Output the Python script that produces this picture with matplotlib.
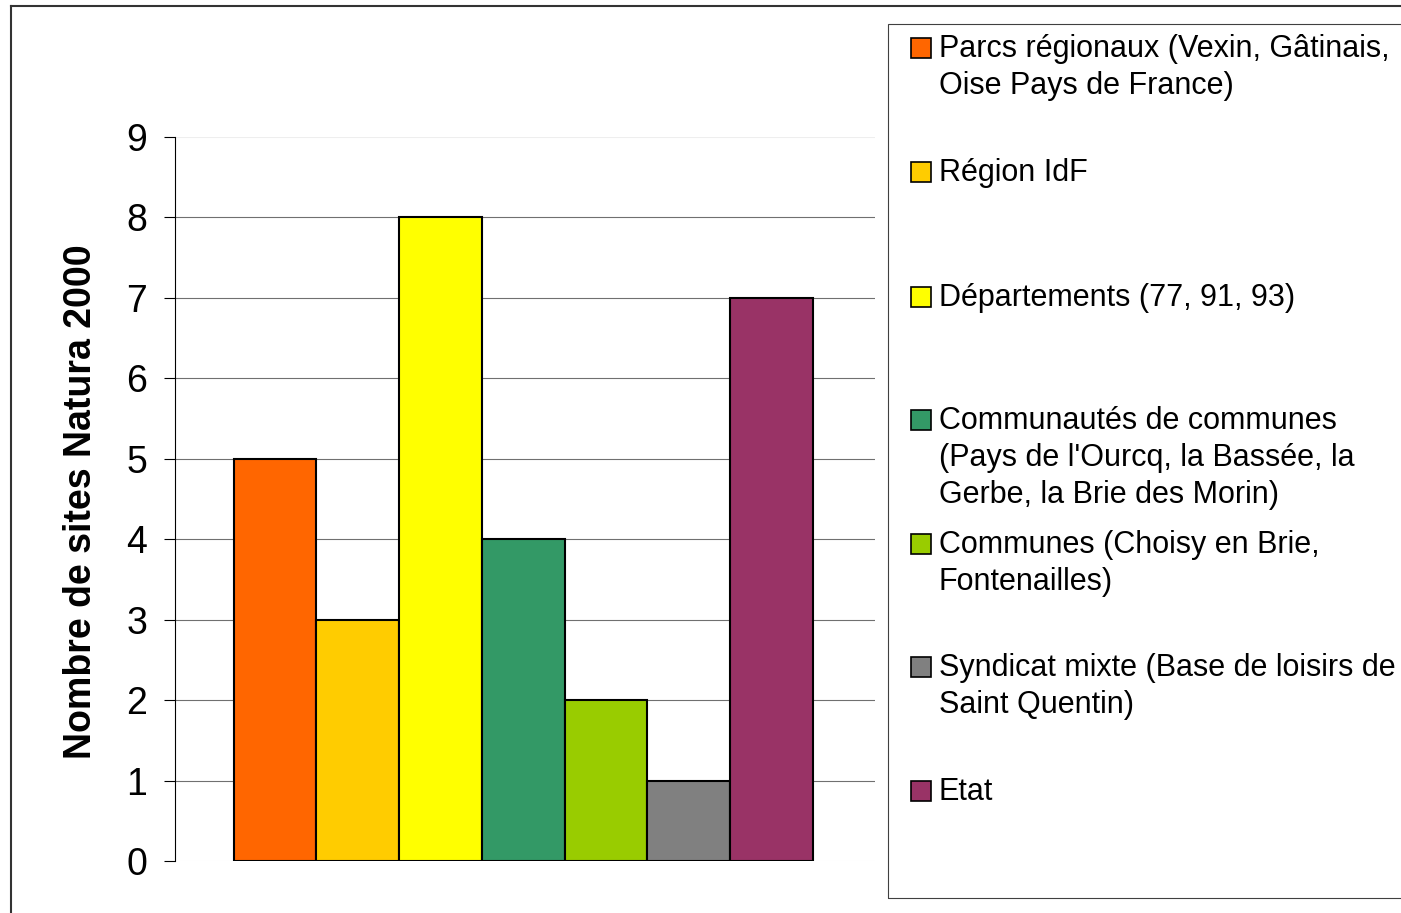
import matplotlib
matplotlib.use("Agg")
import matplotlib.pyplot as plt
from matplotlib.patches import Rectangle
from matplotlib.lines import Line2D

plt.rcParams['font.family'] = ['Liberation Sans', 'DejaVu Sans']

categories = [
    "Parcs régionaux (Vexin, Gâtinais,\nOise Pays de France)",
    "Région IdF",
    "Départements (77, 91, 93)",
    "Communautés de communes\n(Pays de l'Ourcq, la Bassée, la\nGerbe, la Brie des Morin)",
    "Communes (Choisy en Brie,\nFontenailles)",
    "Syndicat mixte (Base de loisirs de\nSaint Quentin)",
    "Etat",
]
values = [5, 3, 8, 4, 2, 1, 7]
colors = ["#FF6600", "#FFCC00", "#FFFF00", "#339966", "#99CC00", "#808080", "#993366"]
yticks = [0, 1, 2, 3, 4, 5, 6, 7, 8, 9]
ylabel = "Nombre de sites Natura 2000"

W, H = 1401, 913
fig = plt.figure(figsize=(W / 100, H / 100), dpi=100)
fig.patch.set_facecolor("white")

def fx(px):
    return px / W

def fy(py):
    return 1 - py / H

ax = fig.add_axes([fx(175), fy(861), fx(875) - fx(175), fy(137) - fy(861)])
x = list(range(len(values)))
ax.bar(x, values, width=1.0, color=colors, edgecolor="black", linewidth=1.5, zorder=3)
ax.set_xlim(-1.21, 7.25)
ax.set_ylim(0, 9)
ax.set_yticks(yticks)
ax.set_yticklabels([str(t) for t in yticks], fontsize=27)
ax.set_xticks([])
ax.tick_params(axis="y", direction="out", length=8, width=0.8, pad=12, color="black")
for s in ["top", "right", "bottom"]:
    ax.spines[s].set_visible(False)
ax.spines["left"].set_linewidth(0.8)
ax.spines["left"].set_color("black")
ax.yaxis.grid(True, color="#707070", linewidth=0.8, zorder=0)
ax.set_axisbelow(True)
gl = ax.get_ygridlines()
gl[0].set_color("#eeeeee")
gl[-1].set_color("#eeeeee")

ax.set_ylabel(ylabel, fontsize=27, fontweight="bold", va="center")
ax.yaxis.set_label_coords((81 - 175) / 700, (861 - 502) / 724)

# outer frame (top and left visible)
fig.add_artist(Line2D([fx(11), fx(W + 5)], [fy(6), fy(6)], color="#333333", linewidth=1.5))
fig.add_artist(Line2D([fx(11), fx(11)], [fy(6), fy(H + 5)], color="#333333", linewidth=1.5))

# legend box
fig.add_artist(Rectangle((fx(888), fy(898)), fx(W + 20) - fx(888), fy(24) - fy(898),
                         transform=fig.transFigure, fill=False, edgecolor="#404040",
                         linewidth=0.8, clip_on=False))

first_centers = [48, 172, 297, 420, 544, 667, 791]
line_h = 37
for lab, col, cy in zip(categories, colors, first_centers):
    fig.add_artist(Rectangle((fx(911), fy(cy + 10)), fx(20), 20 / H,
                             transform=fig.transFigure, facecolor=col,
                             edgecolor="black", linewidth=1.2))
    for i, line in enumerate(lab.split("\n")):
        fig.text(fx(939), fy(cy + 9 + i * line_h), line, fontsize=22,
                 va="baseline", ha="left", color="black")

fig.savefig("out.png", dpi=100, facecolor="white")
